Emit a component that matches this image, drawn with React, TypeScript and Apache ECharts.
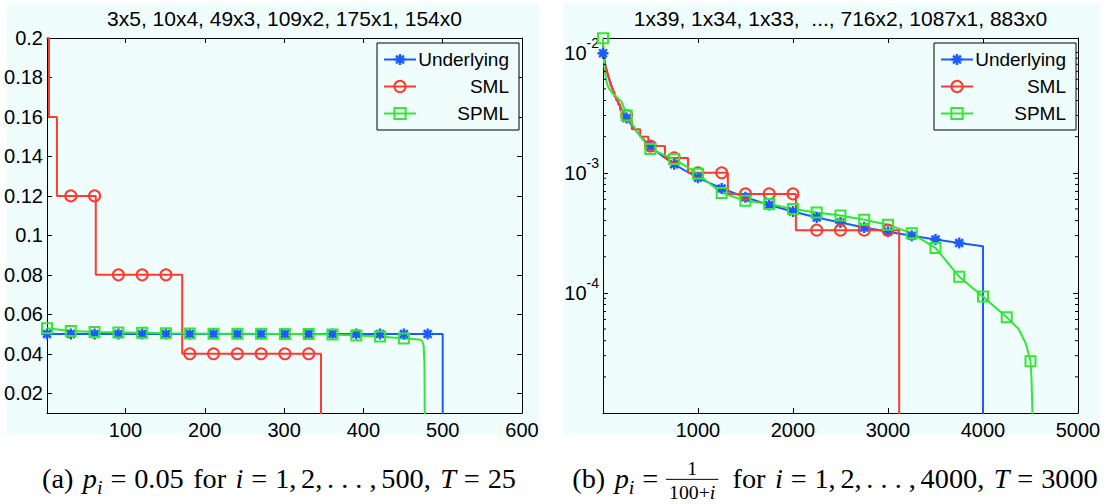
import React, { useEffect, useRef } from "react";
import * as echarts from "echarts";

const BLUE = "#1d5bff";
const RED = "#ff3a2e";
const GREEN = "#35e635";
const BG = "#f0fdfd";
const SANS = "'Liberation Sans', Arial, Helvetica, sans-serif";
const SERIF = "'Liberation Serif', 'Times New Roman', serif";
const NAMES = ["Underlying", "SML", "SPML"];

// ---------- panel (a): p_i = 0.05, T = 25 ----------
const titleA = "3x5, 10x4, 49x3, 109x2, 175x1, 154x0";
const xTicksA = [100, 200, 300, 400, 500, 600];
const yTicksA = [0.02, 0.04, 0.06, 0.08, 0.1, 0.12, 0.14, 0.16, 0.18, 0.2];

const underlyingAStart = [1, 500];
const underlyingALevel = [0.05, 0];
const underlyingAMarks = [1, 31, 61, 91, 121, 151, 181, 211, 241, 271, 301, 331, 361, 391, 421, 451, 481];

const smlAStart = [1, 3.5, 13.5, 62.5, 171.5, 346.5];
const smlALevel = [0.2, 0.16, 0.12, 0.08, 0.04, 0];
const smlAMarks = [31, 61, 91, 121, 151, 181, 211, 241, 271, 301, 331];

const spmlAX = [1, 31, 61, 91, 121, 151, 181, 211, 241, 271, 301, 331, 361, 391, 421, 451, 466, 472, 474.5, 476, 477, 477.5];
const spmlAY = [0.0529, 0.0515, 0.051, 0.0508, 0.0506, 0.0504, 0.0503, 0.0502, 0.0501, 0.0501, 0.05, 0.05, 0.0498, 0.0493, 0.0487, 0.0477, 0.0474, 0.0471, 0.0462, 0.044, 0.035, 0];
const spmlAMarks = [1, 31, 61, 91, 121, 151, 181, 211, 241, 271, 301, 331, 361, 391, 421, 451];

// ---------- panel (b): p_i = 1/(100+i), T = 3000 ----------
const titleB = "1x39, 1x34, 1x33,  ..., 716x2, 1087x1, 883x0";
const xTicksB = [1000, 2000, 3000, 4000, 5000];
const yTickExpB = [-4, -3, -2];
const minorTicksB = [
  2e-5, 3e-5, 4e-5, 5e-5, 6e-5, 7e-5, 8e-5, 9e-5,
  2e-4, 3e-4, 4e-4, 5e-4, 6e-4, 7e-4, 8e-4, 9e-4,
  2e-3, 3e-3, 4e-3, 5e-3, 6e-3, 7e-3, 8e-3, 9e-3,
];

const underlyingBX = [1, 25, 50, 75, 100, 150, 200, 250, 300, 400, 500, 625, 750, 875, 1000, 1125, 1250, 1500, 1750, 2000, 2250, 2500, 2750, 3000, 3250, 3500, 3750, 4000, 4000];
const underlyingBY = [0.0099, 0.008, 0.00667, 0.00571, 0.005, 0.004, 0.00333, 0.00286, 0.0025, 0.002, 0.00166, 0.00138, 0.00118, 0.00103, 0.00091, 0.00082, 0.00074, 0.000625, 0.00054, 0.000476, 0.000425, 0.000385, 0.000351, 0.000323, 0.000299, 0.000278, 0.00026, 0.000244, 0];
const underlyingBMarks = [1, 250, 500, 750, 1000, 1250, 1500, 1750, 2000, 2250, 2500, 2750, 3000, 3250, 3500, 3750];

const smlBStart = [1, 2, 3, 4, 6, 10, 14, 18, 22, 28, 34, 40, 46, 54, 62, 72, 82, 94, 108, 122, 140, 160, 182, 212, 262, 305, 392, 478, 653, 896, 1315, 2031, 3118];
const smlBLevel = [0.013, 0.0113, 0.011, 0.01, 0.0093, 0.009, 0.0087, 0.0083, 0.008, 0.0077, 0.0073, 0.007, 0.0067, 0.0063, 0.006, 0.0057, 0.0053, 0.005, 0.0047, 0.0043, 0.004, 0.0037, 0.0033, 0.003, 0.0027, 0.0023, 0.002, 0.00167, 0.00133, 0.001, 0.000667, 0.000333, 0];
const smlBMarks = [250, 500, 750, 1000, 1250, 1500, 1750, 2000, 2250, 2500, 2750, 3000];

const spmlBX = [1, 8, 15, 25, 40, 55, 74, 100, 130, 165, 197, 220, 250, 300, 400, 500, 625, 750, 875, 1000, 1125, 1250, 1500, 1750, 2000, 2250, 2500, 2750, 3000, 3250, 3500, 3750, 4000, 4250, 4375, 4450, 4500, 4510, 4518, 4523, 4526];
const spmlBY = [0.0132, 0.0095, 0.0078, 0.0066, 0.0057, 0.0052, 0.0049, 0.0046, 0.0044, 0.0041, 0.0039, 0.0035, 0.003, 0.0026, 0.00198, 0.00158, 0.00143, 0.0013, 0.00113, 0.00098, 0.00081, 0.00068, 0.000585, 0.000549, 0.000499, 0.000468, 0.00044, 0.000407, 0.00037, 0.000313, 0.000237, 0.000136, 0.0000931, 0.0000627, 0.00005, 0.000038, 0.000027, 0.00002, 0.000012, 0.000007, 0];
const spmlBMarks = [1, 250, 500, 750, 1000, 1250, 1500, 1750, 2000, 2250, 2500, 2750, 3000, 3250, 3500, 3750, 4000, 4250, 4500];

// ---------- captions ----------
type Piece = { k: "n" | "it" | "sub" | "gap" | "frac"; t?: string; w?: number; num?: Piece[]; den?: Piece[] };
const captionA: Piece[] = [
  { k: "n", t: "(a)" }, { k: "gap", w: 0.333 }, { k: "it", t: "p" }, { k: "sub", t: "i" },
  { k: "gap", w: 0.278 }, { k: "n", t: "=" }, { k: "gap", w: 0.278 }, { k: "n", t: "0.05" },
  { k: "gap", w: 0.333 }, { k: "n", t: "for" }, { k: "gap", w: 0.333 }, { k: "it", t: "i" },
  { k: "gap", w: 0.278 }, { k: "n", t: "=" }, { k: "gap", w: 0.278 }, { k: "n", t: "1," },
  { k: "gap", w: 0.167 }, { k: "n", t: "2," }, { k: "gap", w: 0.167 }, { k: "n", t: ". . . ," },
  { k: "gap", w: 0.167 }, { k: "n", t: "500," }, { k: "gap", w: 0.333 }, { k: "it", t: "T" },
  { k: "gap", w: 0.278 }, { k: "n", t: "=" }, { k: "gap", w: 0.278 }, { k: "n", t: "25" },
];
const captionB: Piece[] = [
  { k: "n", t: "(b)" }, { k: "gap", w: 0.333 }, { k: "it", t: "p" }, { k: "sub", t: "i" },
  { k: "gap", w: 0.278 }, { k: "n", t: "=" }, { k: "gap", w: 0.278 },
  { k: "frac", num: [{ k: "n", t: "1" }], den: [{ k: "n", t: "100+" }, { k: "it", t: "i" }] },
  { k: "gap", w: 0.5 }, { k: "n", t: "for" }, { k: "gap", w: 0.333 }, { k: "it", t: "i" },
  { k: "gap", w: 0.278 }, { k: "n", t: "=" }, { k: "gap", w: 0.278 }, { k: "n", t: "1," },
  { k: "gap", w: 0.167 }, { k: "n", t: "2," }, { k: "gap", w: 0.167 }, { k: "n", t: ". . . ," },
  { k: "gap", w: 0.167 }, { k: "n", t: "4000," }, { k: "gap", w: 0.333 }, { k: "it", t: "T" },
  { k: "gap", w: 0.278 }, { k: "n", t: "=" }, { k: "gap", w: 0.278 }, { k: "n", t: "3000" },
];

const STAR =
  "path://M-5,-1.1H5V1.1H-5Z M1.1,-5V5H-1.1V-5Z M-2.76,-4.31L4.31,2.76L2.76,4.31L-4.31,-2.76Z M-4.31,2.76L2.76,-4.31L4.31,-2.76L-2.76,4.31Z";

type Pt = { value: [number, number]; symbol?: string };
function stepData(starts: number[], levels: number[], marks: number[], floor: number): Pt[] {
  const out: Pt[] = [];
  for (let j = 0; j < starts.length; j++) {
    const y = levels[j] === 0 ? floor : levels[j];
    out.push({ value: [starts[j], y], symbol: "none" });
    if (j + 1 < starts.length) {
      for (const m of marks) if (m >= starts[j] && m < starts[j + 1]) out.push({ value: [m, y] });
      out.push({ value: [starts[j + 1], y], symbol: "none" });
    }
  }
  return out;
}
function curveData(xs: number[], ys: number[], marks: number[], floor: number): Pt[] {
  return xs.map((x, i) => {
    const y = ys[i] === 0 ? floor : ys[i];
    return marks.includes(x) ? { value: [x, y] as [number, number] } : { value: [x, y] as [number, number], symbol: "none" };
  });
}

const LOOK: Record<string, any> = {
  Underlying: { symbol: STAR, symbolSize: 11, itemStyle: { color: BLUE }, lineStyle: { color: BLUE, width: 2 } },
  SML: { symbol: "circle", symbolSize: 11, itemStyle: { color: "rgba(0,0,0,0)", borderColor: RED, borderWidth: 2 }, lineStyle: { color: RED, width: 2 } },
  SPML: { symbol: "rect", symbolSize: 10, itemStyle: { color: "rgba(0,0,0,0)", borderColor: GREEN, borderWidth: 2 }, lineStyle: { color: GREEN, width: 2 } },
};

function lineSeries(name: string, panel: number, data: Pt[]) {
  return {
    type: "line", name, xAxisIndex: panel * 2, yAxisIndex: panel * 2, data,
    showSymbol: true, showAllSymbol: true, clip: true, silent: true,
    ...LOOK[name],
  };
}

const GRID_TOP = 38;
const GRID_H = 375;
const GRID_W = 475;
const GRID_LEFT = [47, 603];
const TICK_FS = 20;
const TITLE_FS = 21;
const LEGEND_FS = 19;

export default function App() {
  const ref = useRef<HTMLDivElement>(null);
  useEffect(() => {
    const el = ref.current!;
    const chart = echarts.init(el, undefined, { renderer: "svg" });

    const ctx = document.createElement("canvas").getContext("2d")!;
    const meas = (t: string, size: number, it: boolean) => {
      ctx.font = `${it ? "italic " : ""}${size}px ${SERIF}`;
      return ctx.measureText(t).width;
    };
    const pw = (p: Piece, s: number): number => {
      if (p.k === "gap") return (p.w || 0) * s;
      if (p.k === "n") return meas(p.t!, s, false);
      if (p.k === "it") return meas(p.t!, s, true);
      if (p.k === "sub") return meas(p.t!, s * 0.7, true);
      const fs = s * 0.7;
      const wn = p.num!.reduce((a, q) => a + pw(q, fs), 0);
      const wd = p.den!.reduce((a, q) => a + pw(q, fs), 0);
      return Math.max(wn, wd) + 0.3 * fs;
    };
    const total = (ps: Piece[], s: number) => ps.reduce((a, p) => a + pw(p, s), 0);
    const txt = (t: string, x: number, bl: number, size: number, it: boolean) => ({
      type: "text", x, y: bl - 0.3 * size, silent: true, z: 20,
      style: { text: t, fontFamily: SERIF, fontSize: size, fontStyle: it ? "italic" : "normal", fill: "#000", align: "left", verticalAlign: "middle" },
    });
    const render = (ps: Piece[], x0: number, bl: number, s: number, out: any[]) => {
      let x = x0;
      for (const p of ps) {
        const w = pw(p, s);
        if (p.k === "n" || p.k === "it") out.push(txt(p.t!, x, bl, s, p.k === "it"));
        else if (p.k === "sub") out.push(txt(p.t!, x, bl + 0.22 * s, s * 0.7, true));
        else if (p.k === "frac") {
          const fs = s * 0.7;
          const wn = p.num!.reduce((a, q) => a + pw(q, fs), 0);
          const wd = p.den!.reduce((a, q) => a + pw(q, fs), 0);
          const bar = bl - 0.27 * s;
          render(p.num!, x + (w - wn) / 2, bar - 0.2 * s, fs, out);
          render(p.den!, x + (w - wd) / 2, bar + 0.2 * s + 0.66 * fs, fs, out);
          out.push({ type: "line", z: 20, silent: true, shape: { x1: x, y1: bar, x2: x + w, y2: bar }, style: { stroke: "#000", lineWidth: 1 } });
        }
        x += w;
      }
    };
    const s = (20 * 474) / total(captionA, 20);
    const caps: any[] = [];
    const wA = total(captionA, s);
    render(captionA, 279 - wA / 2, 487, s, caps);
    const wB = total(captionB, s);
    render(captionB, 835 - wB / 2, 487, s, caps);

    const axisBase = {
      axisLine: { show: true, onZero: false, lineStyle: { color: "#000", width: 1 } },
      axisTick: { show: true, inside: true, length: 5, lineStyle: { color: "#000", width: 1 } },
      splitLine: { show: false },
    };
    const lbl = { color: "#000", fontSize: TICK_FS, fontFamily: SANS };

    const xAxis: any[] = [];
    const yAxis: any[] = [];
    [0, 1].forEach((g) => {
      const xmax = g === 0 ? 600 : 5000;
      const xint = g === 0 ? 100 : 1000;
      const xt = g === 0 ? xTicksA : xTicksB;
      ["bottom", "top"].forEach((pos) => {
        xAxis.push({
          ...axisBase, gridIndex: g, type: "value", min: 1, max: xmax, minInterval: xint, maxInterval: xint, position: pos,
          axisLabel: pos === "bottom"
            ? { ...lbl, margin: 7, formatter: (v: number) => (xt.includes(Math.round(v)) && Math.abs(v - Math.round(v)) < 1e-6 ? String(Math.round(v)) : "") }
            : { show: false },
        });
      });
    });
    ["left", "right"].forEach((pos) => {
      yAxis.push({
        ...axisBase, gridIndex: 0, type: "value", min: 0.01, max: 0.2, minInterval: 0.02, maxInterval: 0.02, position: pos,
        axisLabel: pos === "left"
          ? { ...lbl, margin: 4, formatter: (v: number) => { const m = yTicksA.find((t) => Math.abs(t - v) < 1e-9); return m !== undefined ? String(m) : ""; } }
          : { show: false },
      });
    });
    ["left", "right"].forEach((pos) => {
      yAxis.push({
        ...axisBase, gridIndex: 1, type: "log", logBase: 10, min: 1e-5, max: 0.01325, position: pos,
        axisLabel: pos === "left"
          ? {
              ...lbl, margin: 4,
              formatter: (v: number) => {
                const l = Math.log10(v);
                const e = Math.round(l);
                if (Math.abs(l - e) > 1e-6 || !yTickExpB.includes(e)) return "";
                return `{b|10}{s|${e}}`;
              },
              rich: {
                b: { fontSize: TICK_FS, fontFamily: SANS, color: "#000", lineHeight: 34, verticalAlign: "middle" },
                s: { fontSize: 14, fontFamily: SANS, color: "#000", lineHeight: 14, verticalAlign: "top" },
              },
            }
          : { show: false },
      });
    });

    const series: any[] = [
      lineSeries("Underlying", 0, stepData(underlyingAStart, underlyingALevel, underlyingAMarks, 0)),
      lineSeries("SML", 0, stepData(smlAStart, smlALevel, smlAMarks, 0)),
      lineSeries("SPML", 0, curveData(spmlAX, spmlAY, spmlAMarks, 0)),
      lineSeries("Underlying", 1, curveData(underlyingBX, underlyingBY, underlyingBMarks, 1e-6)),
      lineSeries("SML", 1, stepData(smlBStart, smlBLevel, smlBMarks, 1e-6)),
      lineSeries("SPML", 1, curveData(spmlBX, spmlBY, spmlBMarks, 1e-6)),
      {
        type: "custom", name: "minor", xAxisIndex: 2, yAxisIndex: 2, silent: true, clip: false, z: 5,
        data: minorTicksB.map((v) => [1, v]),
        renderItem: (_p: any, api: any) => {
          const v = api.value(1);
          const a = api.coord([1, v]);
          const b = api.coord([5000, v]);
          return {
            type: "group",
            children: [
              { type: "line", shape: { x1: a[0], y1: a[1], x2: a[0] + 3, y2: a[1] }, style: { stroke: "#000", lineWidth: 1 } },
              { type: "line", shape: { x1: b[0] - 3, y1: b[1], x2: b[0], y2: b[1] }, style: { stroke: "#000", lineWidth: 1 } },
            ],
          };
        },
      },
    ];

    const legend = [377, 934].map((left) => ({
      data: NAMES, left, top: 43, orient: "vertical", itemWidth: 32, itemHeight: 14, itemGap: 8,
      padding: [7, 10, 7, 6], borderColor: "#000", borderWidth: 1, backgroundColor: BG, selectedMode: false,
      formatter: (n: string) => `{t|${n}}`,
      textStyle: {
        color: "#000", fontSize: LEGEND_FS, fontFamily: SANS, lineHeight: 14,
        rich: { t: { width: 88, align: "right", fontSize: LEGEND_FS, fontFamily: SANS, color: "#000", lineHeight: 14 } },
      },
      z: 10,
    }));

    chart.setOption({
      animation: false,
      backgroundColor: "#ffffff",
      grid: GRID_LEFT.map((left) => ({ left, top: GRID_TOP, width: GRID_W, height: GRID_H, containLabel: false })),
      xAxis,
      yAxis,
      legend,
      series,
      graphic: [
        { type: "rect", z: -10, silent: true, shape: { x: 7, y: 3, width: 532, height: 432 }, style: { fill: BG } },
        { type: "rect", z: -10, silent: true, shape: { x: 563, y: 3, width: 537, height: 432 }, style: { fill: BG } },
        { type: "text", x: GRID_LEFT[0] + GRID_W / 2, y: 18, silent: true, style: { text: titleA, fontFamily: SANS, fontSize: TITLE_FS, fill: "#000", align: "center", verticalAlign: "middle" } },
        { type: "text", x: GRID_LEFT[1] + GRID_W / 2, y: 18, silent: true, style: { text: titleB, fontFamily: SANS, fontSize: TITLE_FS, fill: "#000", align: "center", verticalAlign: "middle" } },
        ...caps,
      ],
    });
    return () => chart.dispose();
  }, []);
  return <div ref={ref} style={{ position: "absolute", left: 0, top: 0, width: 1110, height: 504 }} />;
}
